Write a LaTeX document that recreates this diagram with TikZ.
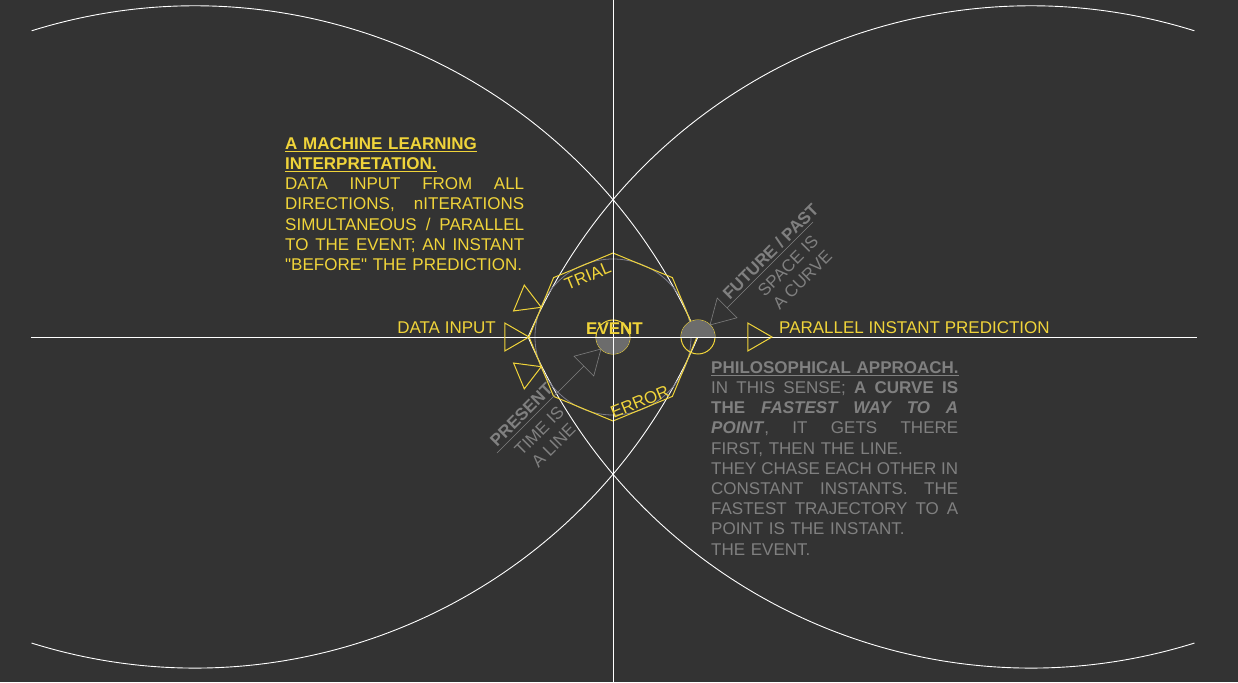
\documentclass[tikz,border=0pt]{standalone}
\usepackage{fontspec}
\setmainfont{Liberation Sans}
\usetikzlibrary{shapes.geometric}
\definecolor{bgdark}{RGB}{51,51,51}
\definecolor{ylw}{RGB}{240,212,58}
\definecolor{txtgrey}{RGB}{128,128,128}
\definecolor{dotgrey}{RGB}{108,108,108}
\definecolor{ringgrey}{RGB}{125,125,140}
\newcommand{\jline}[1]{{\spaceskip=0pt\xspaceskip=0pt\makebox[\linewidth][s]{#1}}}
\newcommand{\headline}[1]{\underline{\textbf{#1}}}
\tikzset{
  wline/.style={white, line width=0.9pt},
  yline/.style={ylw, line width=1pt},
  gline/.style={txtgrey, line width=0.6pt},
  tri/.style={regular polygon, regular polygon sides=3, minimum size=32.3pt,
    inner sep=0pt, outer sep=0pt, draw},
  dot/.style={circle, draw=ylw, line width=1pt, minimum size=34pt,
    inner sep=0pt, outer sep=0pt},
  lbl/.style={font=\fontsize{17}{20.2}\selectfont, inner sep=0pt}
}
\begin{document}
\begin{tikzpicture}[x=1pt, y=1pt]
  \path[use as bounding box, fill=bgdark] (-613,-345) rectangle (625,337);
  \draw[wline]
    (-581.4,306.2) arc[start angle=107.36, end angle=23.29, radius=547.6]
    arc[start angle=-23.29, end angle=-107.36, radius=547.6];
  \draw[wline]
    (581.4,306.2) arc[start angle=72.64, end angle=156.71, radius=547.6]
    arc[start angle=203.29, end angle=287.36, radius=547.6];
  \draw[ringgrey, line width=0.8pt] (0,0) circle (78);
  \draw[yline] (0:84) -- (45:84) -- (90:84) -- (135:84) -- (180:84)
    -- (225:84) -- (270:84) -- (315:84) -- cycle;
  \node[dot] (event) at (0,0) {};
  \node[dot] (instant) at (85,0) {};
  \fill[dotgrey] (event.west) arc[start angle=180, end angle=360, radius=17] -- cycle;
  \fill[dotgrey] (instant.west) arc[start angle=180, end angle=0, radius=17] -- cycle;
  \draw[wline] (-582,0) -- (584,0);
  \draw[wline] (0,337) -- (0,-345);

  \node[tri, ylw, line width=1pt, rotate=-112.5, anchor=corner 1] (inUp) at (157.5:77.6) {};
  \node[tri, ylw, line width=1pt, rotate=-90, anchor=corner 1] (inMid) at (180:84) {};
  \node[tri, ylw, line width=1pt, rotate=-67.5, anchor=corner 1] (inLow) at (202.5:77.6) {};
  \node[tri, ylw, line width=1pt, rotate=-90, anchor=corner 1] (outTip) at (159,0) {};
  \node[tri, txtgrey, line width=0.6pt, rotate=135, anchor=corner 1] (futTip) at (instant.45) {};
  \node[tri, txtgrey, line width=0.6pt, rotate=-45, anchor=corner 1] (nowTip) at (event.225) {};

  \coordinate (futEnd) at (200,115);
  \coordinate (nowEnd) at (-116,-116);
  \draw[gline] (futTip.side 2) --
    node[lbl, txtgrey, sloped, pos=0.58, above=2.5pt] (futLbl) {\bfseries FUTURE / PAST}
    node[lbl, txtgrey, sloped, pos=0.6, below=7pt, align=center] (spaceLbl) {SPACE IS\\A CURVE}
    (futEnd);
  \draw[gline] (nowEnd) --
    node[lbl, txtgrey, sloped, pos=0.36, above=3.5pt] (nowLbl) {\bfseries PRESENT}
    node[lbl, txtgrey, sloped, pos=0.37, below=8pt, align=center] (timeLbl) {TIME IS\\A LINE}
    (nowTip.side 2);

  \node[lbl, ylw, anchor=base east] (dataIn) at (-117,3) {DATA INPUT};
  \node[lbl, ylw, anchor=base west] (predict) at (166,3) {PARALLEL INSTANT PREDICTION};
  \node[lbl, ylw, anchor=base] (eventLbl) at (1.5,2) {\bfseries EVENT};
  \node[lbl, ylw, rotate=22.5] (trial) at (112.5:66) {TRIAL};
  \node[lbl, ylw, rotate=22.5] (error) at (-67.5:70) {ERROR};

  \node[lbl, ylw, text width=239pt, align=left, anchor=north west] (mlNote) at (-328,199.7) {%
    \headline{A MACHINE LEARNING}\\
    \headline{INTERPRETATION.}\\
    \jline{DATA INPUT FROM ALL}\\
    \jline{DIRECTIONS, nITERATIONS}\\
    \jline{SIMULTANEOUS / PARALLEL}\\
    \jline{TO THE EVENT; AN INSTANT}\\
    \textquotedbl BEFORE\textquotedbl{} THE PREDICTION.};
  \node[lbl, txtgrey, text width=247pt, align=left, anchor=north west] (philNote) at (98,-24.3) {%
    \headline{PHILOSOPHICAL APPROACH.}\\
    \jline{IN THIS SENSE; \textbf{A CURVE IS}}\\
    \jline{\textbf{THE \textit{FASTEST WAY TO A}}}\\
    \jline{\textbf{\textit{POINT}}, IT GETS THERE}\\
    FIRST, THEN THE LINE.\\
    \jline{THEY CHASE EACH OTHER IN}\\
    \jline{CONSTANT INSTANTS. THE}\\
    \jline{FASTEST TRAJECTORY TO A}\\
    POINT IS THE INSTANT.\\
    THE EVENT.};
\end{tikzpicture}
\end{document}
